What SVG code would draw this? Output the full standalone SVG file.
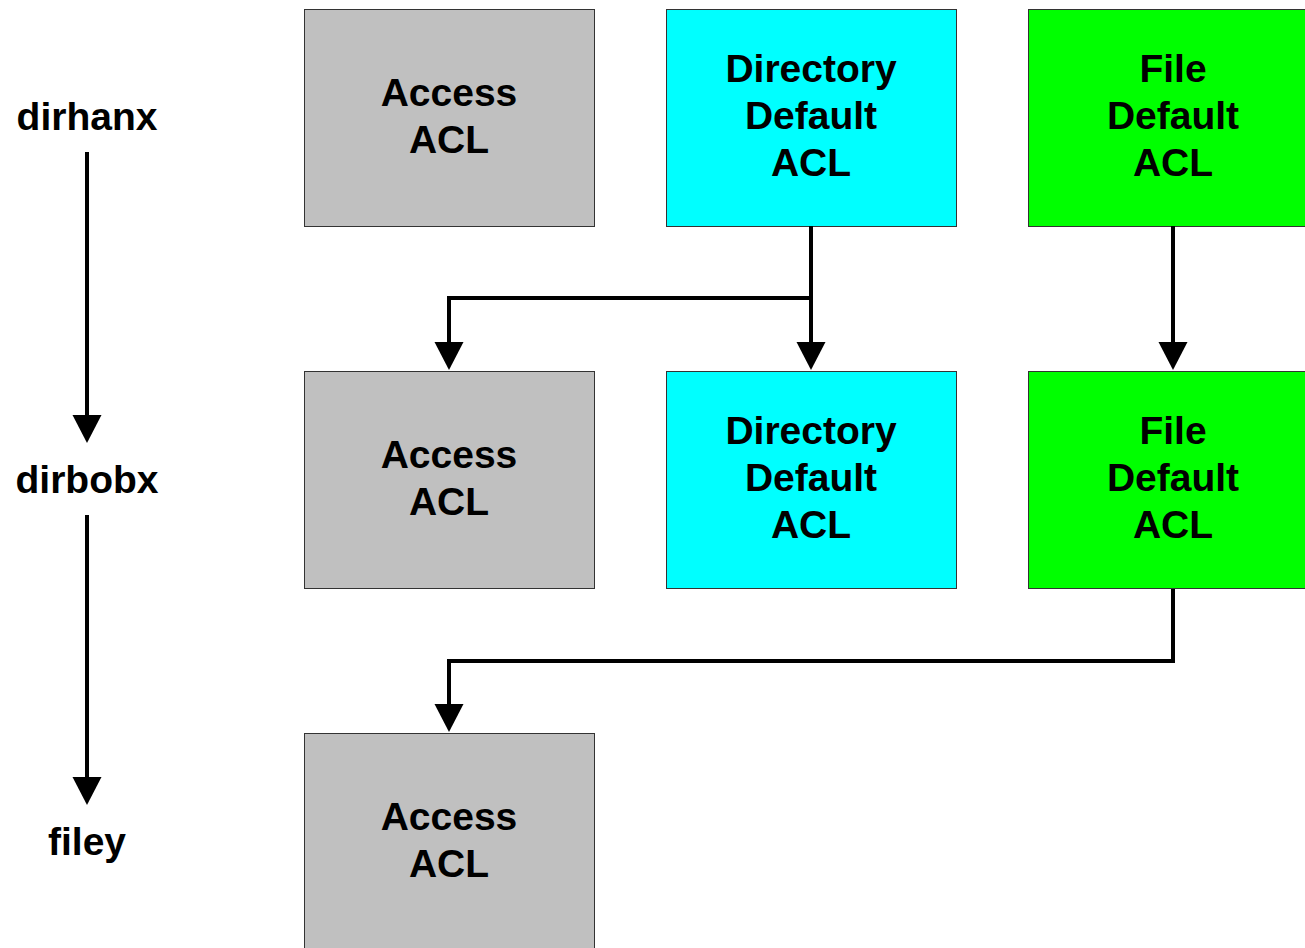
<svg xmlns="http://www.w3.org/2000/svg" width="1305" height="948" viewBox="0 0 1305 948">
<style>
.box{stroke:#333;stroke-width:1}
.gray{fill:#c0c0c0}
.cyan{fill:#00ffff}
.green{fill:#00ff00}
text{font-family:"Liberation Sans",Arial,sans-serif;font-weight:bold;font-size:39px;fill:#000;text-anchor:middle}
.conn{fill:none;stroke:#000;stroke-width:4;stroke-linejoin:miter}
</style>
<defs>
<marker id="ah" markerUnits="userSpaceOnUse" markerWidth="30" markerHeight="30" viewBox="0 0 30 30" refX="1" refY="15" orient="auto">
<path d="M0,0.5 L28,15 L0,29.5 Z" fill="#000"/>
</marker>
</defs>
<rect width="1305" height="948" fill="#fff"/>
<g id="label-dirhanx"><text x="87" y="130">dirhanx</text></g>
<g id="label-dirbobx"><text x="87" y="493">dirbobx</text></g>
<g id="label-filey"><text x="87" y="855">filey</text></g>

<g id="n1-access"><rect class="box gray" x="304.5" y="9.5" width="290" height="217"/><text x="449" y="106">Access</text><text x="449" y="153">ACL</text></g>
<g id="n1-dirdef"><rect class="box cyan" x="666.5" y="9.5" width="290" height="217"/><text x="811" y="82">Directory</text><text x="811" y="129">Default</text><text x="811" y="176">ACL</text></g>
<g id="n1-filedef"><rect class="box green" x="1028.5" y="9.5" width="290" height="217"/><text x="1173" y="82">File</text><text x="1173" y="129">Default</text><text x="1173" y="176">ACL</text></g>

<g id="n2-access"><rect class="box gray" x="304.5" y="371.5" width="290" height="217"/><text x="449" y="468">Access</text><text x="449" y="515">ACL</text></g>
<g id="n2-dirdef"><rect class="box cyan" x="666.5" y="371.5" width="290" height="217"/><text x="811" y="444">Directory</text><text x="811" y="491">Default</text><text x="811" y="538">ACL</text></g>
<g id="n2-filedef"><rect class="box green" x="1028.5" y="371.5" width="290" height="217"/><text x="1173" y="444">File</text><text x="1173" y="491">Default</text><text x="1173" y="538">ACL</text></g>

<g id="n3-access"><rect class="box gray" x="304.5" y="733.5" width="290" height="230"/><text x="449" y="830">Access</text><text x="449" y="877">ACL</text></g>

<g id="connectors">
<path class="conn" d="M87,152 V416" marker-end="url(#ah)"/>
<path class="conn" d="M87,515 V778" marker-end="url(#ah)"/>
<path class="conn" d="M811,226 V343" marker-end="url(#ah)"/>
<path class="conn" d="M811,298 H449 V343" marker-end="url(#ah)"/>
<path class="conn" d="M1173,226 V343" marker-end="url(#ah)"/>
<path class="conn" d="M1173,589 V661 H449 V705" marker-end="url(#ah)"/>
</g>
</svg>
